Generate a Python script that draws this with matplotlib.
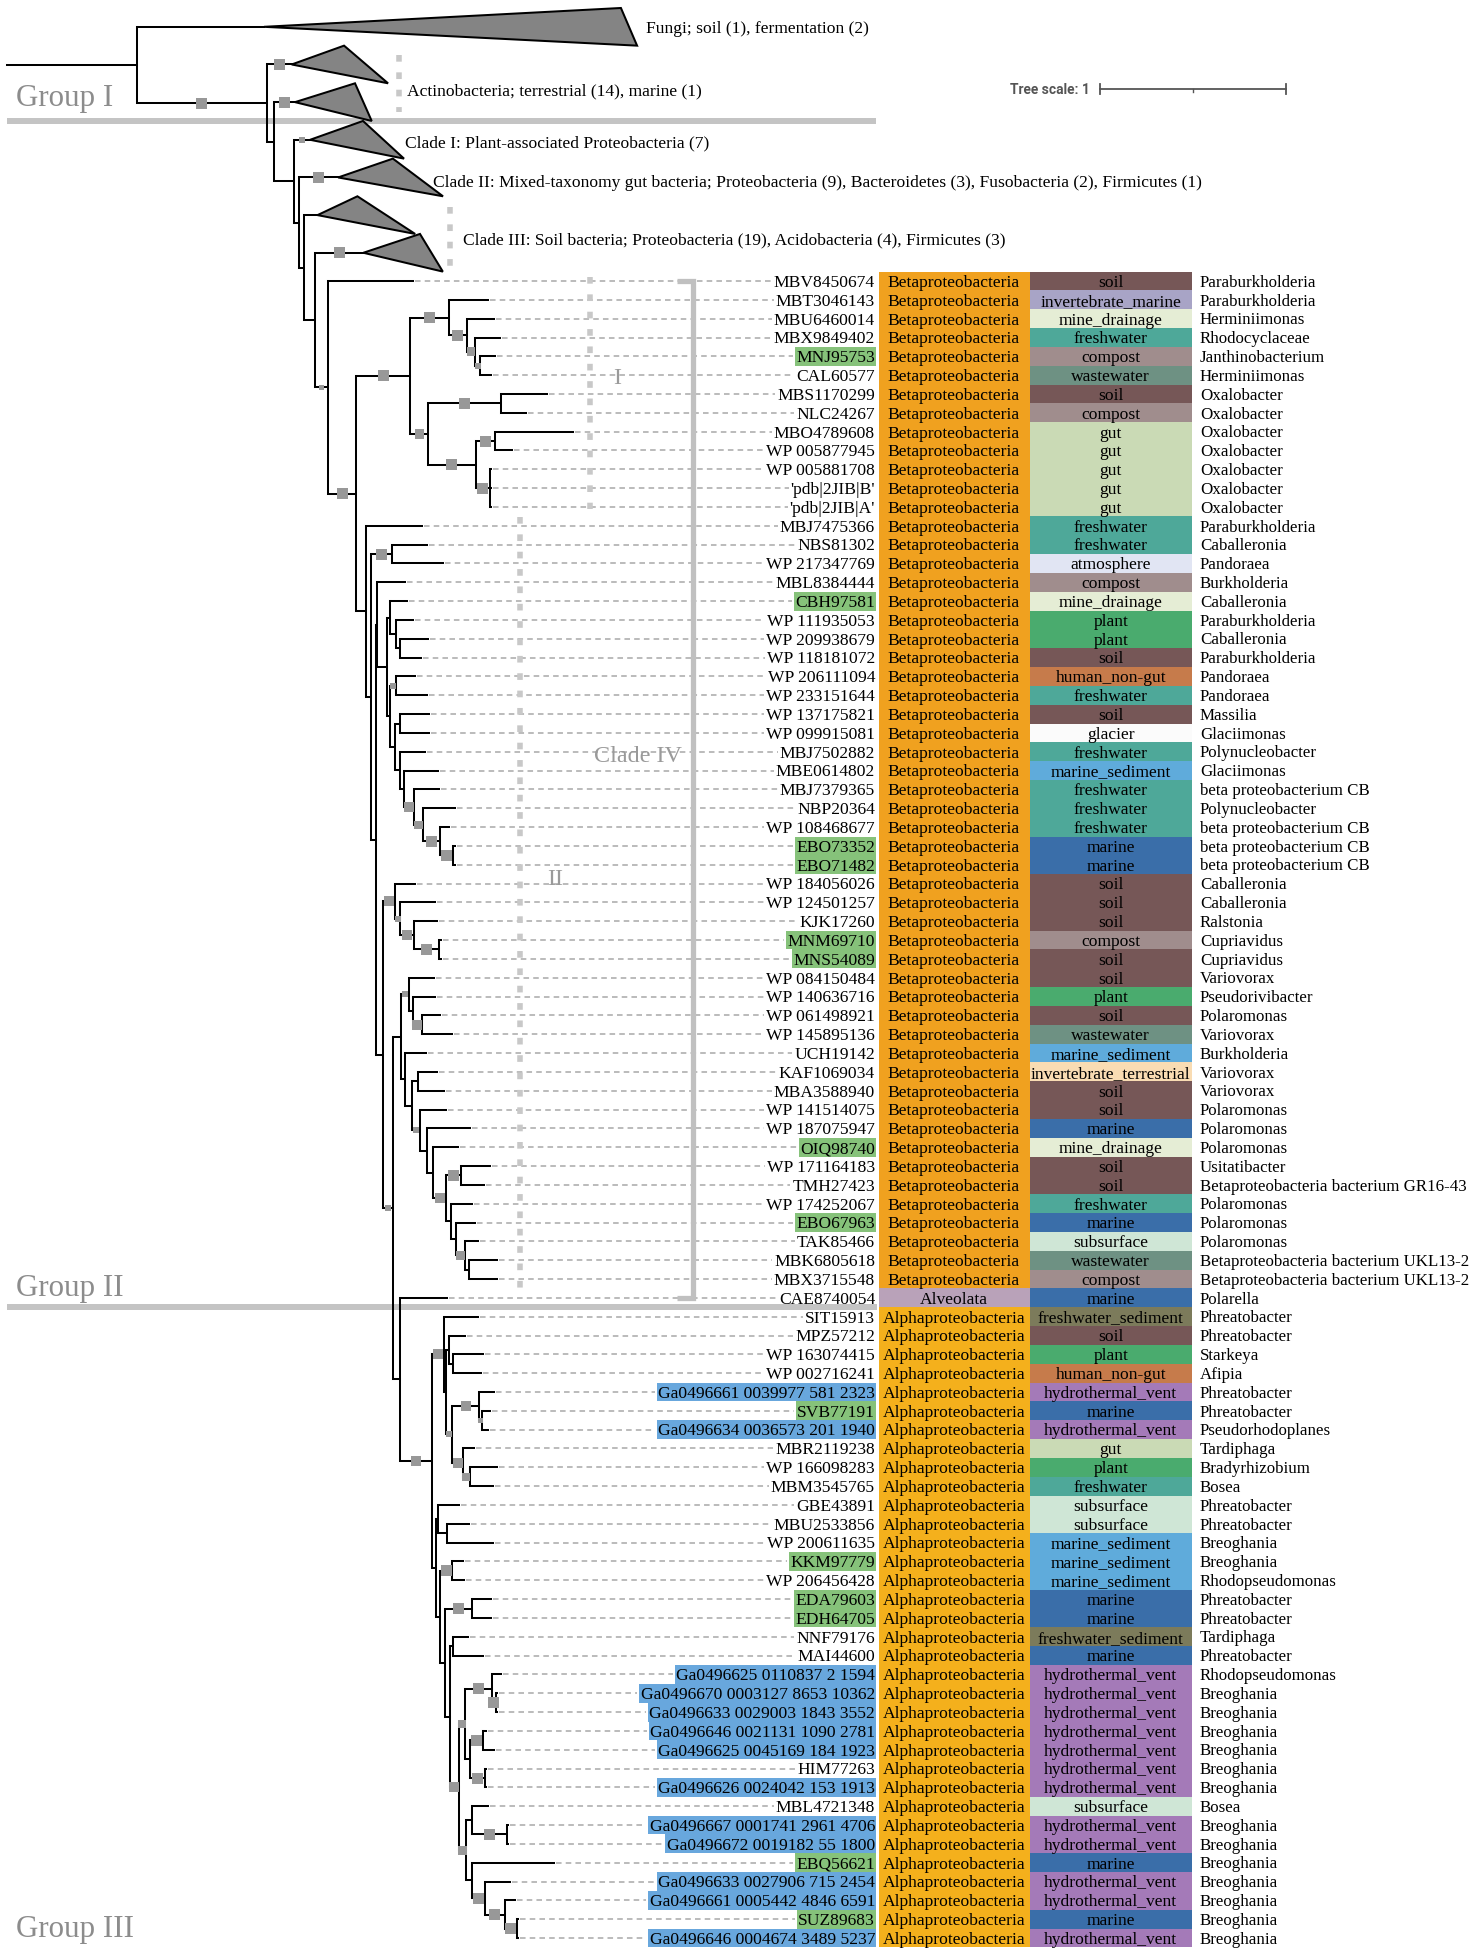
import matplotlib
matplotlib.use("Agg")
import matplotlib.pyplot as plt
from matplotlib.patches import Rectangle, Polygon
from matplotlib.collections import LineCollection

plt.rcParams['font.family'] = ['Liberation Serif', 'DejaVu Serif']
plt.rcParams['lines.scale_dashes'] = False

# ---------------- DATA ----------------
LEAF_NAMES = [
    "MBV8450674", "MBT3046143", "MBU6460014", "MBX9849402", "MNJ95753", "CAL60577",
    "MBS1170299", "NLC24267", "MBO4789608", "WP 005877945", "WP 005881708",
    "'pdb|2JIB|B'", "'pdb|2JIB|A'", "MBJ7475366", "NBS81302", "WP 217347769",
    "MBL8384444", "CBH97581", "WP 111935053", "WP 209938679", "WP 118181072",
    "WP 206111094", "WP 233151644", "WP 137175821", "WP 099915081", "MBJ7502882",
    "MBE0614802", "MBJ7379365", "NBP20364", "WP 108468677", "EBO73352", "EBO71482",
    "WP 184056026", "WP 124501257", "KJK17260", "MNM69710", "MNS54089",
    "WP 084150484", "WP 140636716", "WP 061498921", "WP 145895136", "UCH19142",
    "KAF1069034", "MBA3588940", "WP 141514075", "WP 187075947", "OIQ98740",
    "WP 171164183", "TMH27423", "WP 174252067", "EBO67963", "TAK85466",
    "MBK6805618", "MBX3715548", "CAE8740054",
    "SIT15913", "MPZ57212", "WP 163074415", "WP 002716241",
    "Ga0496661 0039977 581 2323", "SVB77191", "Ga0496634 0036573 201 1940",
    "MBR2119238", "WP 166098283", "MBM3545765", "GBE43891", "MBU2533856",
    "WP 200611635", "KKM97779", "WP 206456428", "EDA79603", "EDH64705",
    "NNF79176", "MAI44600", "Ga0496625 0110837 2 1594",
    "Ga0496670 0003127 8653 10362", "Ga0496633 0029003 1843 3552",
    "Ga0496646 0021131 1090 2781", "Ga0496625 0045169 184 1923", "HIM77263",
    "Ga0496626 0024042 153 1913", "MBL4721348", "Ga0496667 0001741 2961 4706",
    "Ga0496672 0019182 55 1800", "EBQ56621", "Ga0496633 0027906 715 2454",
    "Ga0496661 0005442 4846 6591", "SUZ89683", "Ga0496646 0004674 3489 5237",
]

TAXONOMY = ["Betaproteobacteria"] * 54 + ["Alveolata"] + ["Alphaproteobacteria"] * 34

ENVIRONMENT = [
    "soil", "invertebrate_marine", "mine_drainage", "freshwater", "compost", "wastewater",
    "soil", "compost", "gut", "gut", "gut", "gut", "gut",
    "freshwater", "freshwater", "atmosphere", "compost", "mine_drainage", "plant", "plant",
    "soil", "human_non-gut", "freshwater", "soil", "glacier", "freshwater",
    "marine_sediment", "freshwater", "freshwater", "freshwater", "marine", "marine",
    "soil", "soil", "soil", "compost", "soil", "soil", "plant", "soil", "wastewater",
    "marine_sediment", "invertebrate_terrestrial", "soil", "soil", "marine",
    "mine_drainage", "soil", "soil", "freshwater", "marine", "subsurface", "wastewater",
    "compost", "marine",
    "freshwater_sediment", "soil", "plant", "human_non-gut", "hydrothermal_vent",
    "marine", "hydrothermal_vent", "gut", "plant", "freshwater", "subsurface",
    "subsurface", "marine_sediment", "marine_sediment", "marine_sediment", "marine",
    "marine", "freshwater_sediment", "marine", "hydrothermal_vent", "hydrothermal_vent",
    "hydrothermal_vent", "hydrothermal_vent", "hydrothermal_vent", "hydrothermal_vent",
    "hydrothermal_vent", "subsurface", "hydrothermal_vent", "hydrothermal_vent",
    "marine", "hydrothermal_vent", "hydrothermal_vent", "marine", "hydrothermal_vent",
]

GENUS = [
    "Paraburkholderia", "Paraburkholderia", "Herminiimonas", "Rhodocyclaceae",
    "Janthinobacterium", "Herminiimonas", "Oxalobacter", "Oxalobacter", "Oxalobacter",
    "Oxalobacter", "Oxalobacter", "Oxalobacter", "Oxalobacter", "Paraburkholderia",
    "Caballeronia", "Pandoraea", "Burkholderia", "Caballeronia", "Paraburkholderia",
    "Caballeronia", "Paraburkholderia", "Pandoraea", "Pandoraea", "Massilia",
    "Glaciimonas", "Polynucleobacter", "Glaciimonas", "beta proteobacterium CB",
    "Polynucleobacter", "beta proteobacterium CB", "beta proteobacterium CB",
    "beta proteobacterium CB", "Caballeronia", "Caballeronia", "Ralstonia",
    "Cupriavidus", "Cupriavidus", "Variovorax", "Pseudorivibacter", "Polaromonas",
    "Variovorax", "Burkholderia", "Variovorax", "Variovorax", "Polaromonas",
    "Polaromonas", "Polaromonas", "Usitatibacter", "Betaproteobacteria bacterium GR16-43",
    "Polaromonas", "Polaromonas", "Polaromonas", "Betaproteobacteria bacterium UKL13-2",
    "Betaproteobacteria bacterium UKL13-2", "Polarella",
    "Phreatobacter", "Phreatobacter", "Starkeya", "Afipia", "Phreatobacter",
    "Phreatobacter", "Pseudorhodoplanes", "Tardiphaga", "Bradyrhizobium", "Bosea",
    "Phreatobacter", "Phreatobacter", "Breoghania", "Breoghania", "Rhodopseudomonas",
    "Phreatobacter", "Phreatobacter", "Tardiphaga", "Phreatobacter", "Rhodopseudomonas",
    "Breoghania", "Breoghania", "Breoghania", "Breoghania", "Breoghania", "Breoghania",
    "Bosea", "Breoghania", "Breoghania", "Breoghania", "Breoghania", "Breoghania",
    "Breoghania", "Breoghania",
]

# label highlight: green (metagenome), blue (vent MAG)
GREEN_LABELS = [4, 17, 30, 31, 35, 36, 46, 50, 60, 68, 70, 71, 84, 87]
BLUE_LABELS = [59, 61, 74, 75, 76, 77, 78, 80, 82, 83, 85, 86, 88]

# collapsed clades c0..c6 : min / max depth (tree units), support
CLADE_NAMES = ["Fungi", "Actinobacteria a", "Actinobacteria b", "Clade I", "Clade II",
               "Clade III a", "Clade III b"]
CLADE_MIN = [1.922, 0.282, 0.323, 0.285, 0.295, 0.215, 0.305]
CLADE_MAX = [2.009, 0.519, 0.413, 0.506, 0.565, 0.526, 0.428]
CLADE_SUPPORT = [0, 100, 100, 70, 100, 0, 100]

# Newick pieces (leaf = row index, cN = collapsed clade, label after ')' = support)
NWK_J = ("((1:0.214,(2:0.141,(3:0.135,(4:0.078,5:0.061)70:0.027)85:0.042)100:0.101)100:0.207,"
         "((6:0.247,7:0.134)100:0.393,((8:0.417,9:0.089)100:0.106,"
         "(10:0.005,11:0.005,12:0.005)100:0.079)100:0.255)90:0.097)100:0.291")
NWK_P1 = "(17:0.094,(18:0.095,(19:0.152,20:0.113):0.023):0.034):0.014"
NWK_P2 = ("((21:0.102,22:0.165)70:0.036,((23:0.152,24:0.152):0.031,(25:0.131,(26:0.185,"
          "(27:0.135,(28:0.174,(29:0.045,(30:0.012,31:0.012)100:0.068)100:0.093)85:0.051)95:0.054)"
          ":0.018):0.031):0.027):0.014")
NWK_M1 = "(32:0.107,(33:0.185,(34:0.125,(35:0.011,36:0.011)100:0.134)95:0.072)70:0.029)95:0.066"
NWK_M2A1 = "(37:0.131,(38:0.122,(39:0.099,40:0.162)95:0.051):0.018)72:0.045"
NWK_Z2 = ("(44:0.140,(45:0.233,(46:0.131,((47:0.156,48:0.122)100:0.081,(49:0.113,(50:0.102,"
          "(51:0.072,(52:0.149,53:0.149):0.023)85:0.048):0.029):0.025)95:0.068):0.036):0.036)70:0.041")
NWK_A1 = ("(55:0.186,((56:0.084,(57:0.162,58:0.149):0.022):0.016,((59:0.077,(60:0.041,61:0.031)"
          "65:0.015)95:0.144,(62:0.061,(63:0.148,64:0.128)85:0.037)95:0.055)70:0.034):0.013)95:0.062")
NWK_A2 = ("((65:0.113,(66:0.114,67:0.246):0.051):0.010,((68:0.055,69:0.062)100:0.066,"
          "((70:0.099,71:0.099)100:0.148,((72:0.079,73:0.162):0.020,(((74:0.052,(75:0.005,76:0.005)"
          "100:0.025)100:0.141,((77:0.016,78:0.059)100:0.070,(79:0.005,80:0.005)100:0.081):0.023)"
          "85:0.035,((81:0.087,(82:0.005,83:0.005)100:0.190):0.031,(84:0.441,(85:0.134,(86:0.055,"
          "(87:0.003,88:0.003)100:0.066)100:0.107)100:0.072):0.031)88:0.037)95:0.051):0.025)"
          ":0.025):0.022):0.021")

NWK_ALPHA = f"({NWK_A1},{NWK_A2})95:0.171"
NWK_M2 = (f"(({NWK_M2A1},(41:0.111,((42:0.102,43:0.138):0.032,{NWK_Z2}):0.039):0.023):0.040,"
          f"(54:0.253,{NWK_ALPHA}):0.038)70:0.057")
NWK_M = f"({NWK_M1},{NWK_M2}):0.036"
NWK_K = (f"(13:0.300,((14:0.188,15:0.276)100:0.113,((16:0.150,({NWK_P1},{NWK_P2}):0.051):0.007,"
         f"{NWK_M}):0.029):0.025):0.054")
TREE = (f"(c0:0.684,(c1:0.133,(c2:0.113,(c3:0.086,(c4:0.210,(c5:0.072,(c6:0.260,"
        f"(0:0.456,({NWK_J},{NWK_K})100:0.149)65:0.072):0.059):0.027):0.027):0.108):0.038)"
        f"100:0.700):0.700;")

TAX_COLORS = {"Betaproteobacteria": "#f0a11f", "Alphaproteobacteria": "#f4b01c",
              "Alveolata": "#b9a2b9"}
ENV_COLORS = {
    "soil": "#765757", "invertebrate_marine": "#a8a4c6", "mine_drainage": "#e5edd5",
    "freshwater": "#4ea899", "compost": "#a08d8d", "wastewater": "#6e9183",
    "gut": "#cadab5", "atmosphere": "#e1e5f3", "plant": "#4aab6e",
    "human_non-gut": "#c67b4b", "glacier": "#fbfbfb", "marine_sediment": "#5fabdb",
    "marine": "#3a6ea9", "invertebrate_terrestrial": "#f9dcb3", "subsurface": "#cfe6d6",
    "freshwater_sediment": "#7c7b5b", "hydrothermal_vent": "#a47ab8",
}

# ---------------- LAYOUT ----------------
W, H = 1477, 1957
X_ROOT = 7.0          # start of root stem (px)
SCALE = 185.7         # px per tree unit (= tree scale bar length)
Y_TOP = 17.4          # y of slot 0
PITCH = 18.83         # row pitch
LABEL_RIGHT = 875
TAX_X0, TAX_X1 = 878.5, 1029.5
ENV_X0, ENV_X1 = 1029.5, 1192
GENUS_X = 1200
FS = 12.6
FS_GENUS = 12.2

fig = plt.figure(figsize=(W / 100, H / 100), dpi=100)
ax = fig.add_axes([0, 0, 1, 1])
ax.set_xlim(0, W)
ax.set_ylim(H, 0)
ax.axis('off')
renderer = fig.canvas.get_renderer()


def parse_newick(s):
    s = s.replace(' ', '').rstrip(';')
    pos = [0]

    def read_until(stops):
        st = pos[0]
        while pos[0] < len(s) and s[pos[0]] not in stops:
            pos[0] += 1
        return s[st:pos[0]]

    def node():
        nd = {'kids': [], 'name': None, 'sup': None, 'len': 0.0}
        if s[pos[0]] == '(':
            pos[0] += 1
            while True:
                nd['kids'].append(node())
                c = s[pos[0]]
                pos[0] += 1
                if c == ')':
                    break
            lab = read_until(':,)')
            if lab:
                nd['sup'] = float(lab)
        else:
            nd['name'] = read_until(':,)')
        if pos[0] < len(s) and s[pos[0]] == ':':
            pos[0] += 1
            nd['len'] = float(read_until(',)'))
        return nd

    return node()


root = parse_newick(TREE)
slot = [0]
nodes = []


def layout(nd, xp):
    nd['x0'] = xp
    nd['x'] = xp + nd['len'] * SCALE
    nodes.append(nd)
    if nd['kids']:
        for k in nd['kids']:
            layout(k, nd['x'])
        nd['y'] = (nd['kids'][0]['y'] + nd['kids'][-1]['y']) / 2
    else:
        if nd['name'].startswith('c'):
            ci = int(nd['name'][1:])
            nd['clade'] = ci
            nd['y'] = Y_TOP + PITCH * (slot[0] + 0.5)
            slot[0] += 2
            if CLADE_SUPPORT[ci]:
                nd['sup'] = CLADE_SUPPORT[ci]
        else:
            nd['leaf'] = int(nd['name'])
            nd['y'] = Y_TOP + PITCH * slot[0]
            slot[0] += 1


layout(root, X_ROOT)

# group separator lines
GRAY_BAND = '#c4c4c4'
ax.plot([7, 876], [121, 121], color=GRAY_BAND, lw=4.3, solid_capstyle='butt', zorder=1)
ax.plot([7, 877], [1307, 1307], color=GRAY_BAND, lw=4.3, solid_capstyle='butt', zorder=1)
for txt, yb in [("Group I", 106), ("Group II", 1296), ("Group III", 1937)]:
    ax.text(16, yb, txt, fontsize=22.3, color='#8c8c8c', ha='left', va='baseline')

# tree lines
segs = []
for nd in nodes:
    segs.append([(nd['x0'], nd['y']), (nd['x'], nd['y'])])
    if nd['kids']:
        segs.append([(nd['x'], nd['kids'][0]['y']), (nd['x'], nd['kids'][-1]['y'])])
ax.add_collection(LineCollection(segs, colors='black', linewidths=1.45,
                                 capstyle='projecting', zorder=4))

# collapsed clade triangles
for nd in nodes:
    if 'clade' in nd:
        ci = nd['clade']
        tri = [(nd['x'], nd['y']),
               (nd['x'] + CLADE_MIN[ci] * SCALE, nd['y'] - PITCH),
               (nd['x'] + CLADE_MAX[ci] * SCALE, nd['y'] + PITCH)]
        ax.add_patch(Polygon(tri, closed=True, facecolor='#848484', edgecolor='black',
                             lw=1.45, joinstyle='miter', zorder=4))

# support squares
for nd in nodes:
    if nd['sup']:
        sz = 4 + (nd['sup'] - 60) * 0.175
        cx = (nd['x0'] + nd['x']) / 2
        ax.add_patch(Rectangle((cx - sz / 2, nd['y'] - sz / 2), sz, sz,
                               facecolor='#989898', edgecolor='none', zorder=5))

# leaf labels, highlights, dashed connectors, annotation columns
for nd in nodes:
    if 'leaf' not in nd:
        continue
    i = nd['leaf']
    y = nd['y']
    t = ax.text(LABEL_RIGHT, y + 5.85, LEAF_NAMES[i], fontsize=FS, ha='right',
                va='baseline', color='black', zorder=6)
    bb = t.get_window_extent(renderer)
    left = bb.x0
    if i in GREEN_LABELS or i in BLUE_LABELS:
        col = '#86c27a' if i in GREEN_LABELS else '#68a7dd'
        ax.add_patch(Rectangle((left - 1.5, y - PITCH / 2), LABEL_RIGHT + 1 - (left - 1.5),
                               PITCH, facecolor=col, edgecolor='none', zorder=2))
        left -= 1.5
    ax.plot([nd['x'] + 2, left - 2], [y, y], color='#a8a8a8', lw=1.1,
            linestyle=(0, (4.0, 3.0)), solid_capstyle='butt', zorder=2)
    # taxonomy
    ax.add_patch(Rectangle((TAX_X0, y - PITCH / 2), TAX_X1 - TAX_X0, PITCH,
                           facecolor=TAX_COLORS[TAXONOMY[i]], edgecolor='none', zorder=2))
    ax.text((TAX_X0 + TAX_X1) / 2, y + 5.85, TAXONOMY[i], fontsize=FS, ha='center',
            va='baseline', zorder=6)
    # environment
    ax.add_patch(Rectangle((ENV_X0, y - PITCH / 2), ENV_X1 - ENV_X0, PITCH,
                           facecolor=ENV_COLORS[ENVIRONMENT[i]], edgecolor='none', zorder=2))
    ax.text((ENV_X0 + ENV_X1) / 2, y + 5.85, ENVIRONMENT[i], fontsize=FS, ha='center',
            va='baseline', zorder=6)
    ax.text(GENUS_X, y + 5.7, GENUS[i], fontsize=FS_GENUS, ha='left', va='baseline', zorder=6)

# collapsed-clade labels
clade_nodes = {nd['clade']: nd for nd in nodes if 'clade' in nd}
ax.text(646, clade_nodes[0]['y'] + 5.85, "Fungi; soil (1), fermentation (2)", fontsize=FS,
        ha='left', va='baseline')
ax.text(407, 95, "Actinobacteria; terrestrial (14), marine (1)", fontsize=FS,
        ha='left', va='baseline')
ax.text(405, clade_nodes[3]['y'] + 7.5, "Clade I: Plant-associated Proteobacteria (7)",
        fontsize=FS, ha='left', va='baseline')
ax.text(433, clade_nodes[4]['y'] + 9.5,
        "Clade II: Mixed-taxonomy gut bacteria; Proteobacteria (9), Bacteroidetes (3), "
        "Fusobacteria (2), Firmicutes (1)", fontsize=FS, ha='left', va='baseline')
ax.text(462.6, 244, "Clade III: Soil bacteria; Proteobacteria (19), Acidobacteria (4), "
        "Firmicutes (3)", fontsize=FS, ha='left', va='baseline')

# dotted clade markers
DOT = '#c8c8c8'
for xd, y0, y1 in [(399, 55, 112), (450, 207, 272), (590, 277, 509), (520, 517, 1290)]:
    ax.plot([xd, xd], [y0, y1], color=DOT, lw=4.0, linestyle=(0, (4.8, 7.7)),
            solid_capstyle='butt', dash_capstyle='butt', zorder=3)

# clade IV bracket
leaf_y = {nd['leaf']: nd['y'] for nd in nodes if 'leaf' in nd}
yb0, yb1 = leaf_y[0], leaf_y[54]
ax.plot([677, 693, 693, 677], [yb0, yb0, yb1, yb1], color='#c0c0c0', lw=3.8,
        solid_joinstyle='miter', solid_capstyle='butt', zorder=3)
ax.text(594.5, 762.5, "Clade IV", fontsize=17.4, color='#9a9a9a', ha='left', va='baseline',
        zorder=6)
ax.text(617.6, 383.5, "I", fontsize=17.4, color='#9a9a9a', ha='center', va='baseline', zorder=6)
ax.text(555.5, 885, "II", fontsize=17.4, color='#9a9a9a', ha='center', va='baseline', zorder=6)

# tree scale
SB_X0, SB_Y = 1100, 89
ax.plot([SB_X0, SB_X0 + SCALE], [SB_Y, SB_Y], color='#555555', lw=1.3, zorder=6)
for xt in [SB_X0, SB_X0 + SCALE]:
    ax.plot([xt, xt], [SB_Y - 5, SB_Y + 5], color='#555555', lw=1.3, zorder=6)
ax.plot([SB_X0 + SCALE / 2] * 2, [SB_Y, SB_Y + 3], color='#555555', lw=1.0, zorder=6)
ax.text(1090, 94, "Tree scale: 1", fontsize=9.9, fontweight='bold', color='#555555',
        ha='right', va='baseline',
        family=['Liberation Sans Narrow', 'Roboto', 'Liberation Sans', 'DejaVu Sans'])

fig.savefig("out.png", dpi=100, facecolor='white')
